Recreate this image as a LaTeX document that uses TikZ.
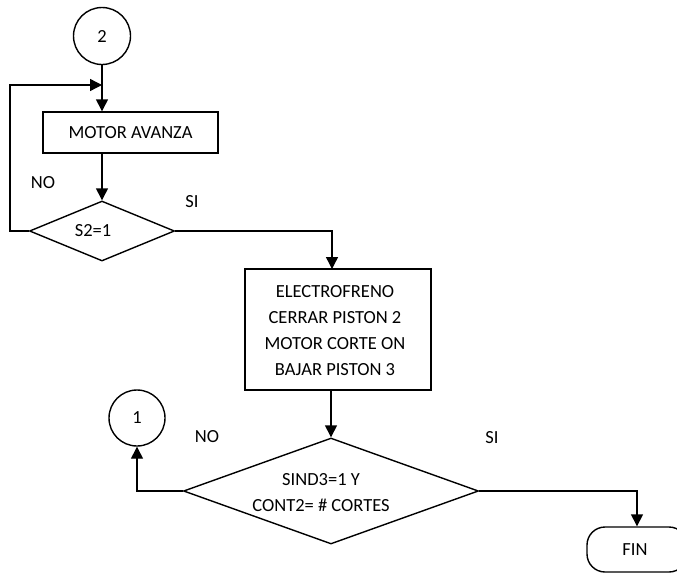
\documentclass[tikz,border=0pt]{standalone}
\usepackage{fontspec}
\setmainfont{Carlito}
\usetikzlibrary{arrows.meta,shapes.geometric}
\begin{document}
\begin{tikzpicture}[x=1pt,y=-1pt,
  line width=1.4pt,
  every node/.style={font=\fontsize{18.5}{26}\selectfont, inner sep=0pt},
  flow/.style={draw, line width=1.4pt},
  procbox/.style={flow, rectangle},
  connector/.style={flow, circle},
  decision/.style={flow, diamond},
  terminal/.style={flow, rectangle, rounded corners=18pt},
  arr/.style={-{Triangle[length=12pt,width=12pt]}},
  txt/.style={align=center}
]
\clip (0,0) rectangle (677,573);
\fill[white] (0,0) rectangle (677,573);

% shapes
\node[connector, minimum size=57pt] (c2) at (102,36) {2};
\node[procbox, minimum width=175pt, minimum height=41pt] (b1) at (130.5,132.5) {MOTOR AVANZA};
\node[decision, minimum width=145pt, minimum height=60pt] (d1) at (102,231) {};
\node[txt] (d1t) at (93,231) {S2=1};
\node[procbox, minimum width=186pt, minimum height=121pt] (b2) at (338,329.5) {};
\node[txt] (b2t) at (335,331) {ELECTROFRENO\\CERRAR PISTON 2\\MOTOR CORTE ON\\BAJAR PISTON 3};
\node[decision, minimum width=295pt, minimum height=106pt] (d2) at (331,491) {};
\node[txt] (d2t) at (321,493) {SIND3=1 Y\\CONT2= \# CORTES};
\node[connector, minimum size=56pt] (c1) at (137,418) {1};
\node[terminal, minimum width=100pt, minimum height=45pt] (fin) at (637,549.5) {};
\node (fint) at (635,550) {FIN};

% branch labels
\node (no1) at (43,183) {NO};
\node (si1) at (192,202) {SI};
\node (no2) at (207,437) {NO};
\node (si2) at (492,438) {SI};

% helper points
\coordinate (m) at (102,85);
\coordinate (lp) at (10,231);
\coordinate (t2) at (332,269);

% connectors
\draw[arr] (c2.south) -- (c2.south |- b1.north);
\draw[arr] (d1.north |- b1.south) -- (d1.north);
\draw[arr] (d1.west) -- (lp) |- (m);
\draw[arr] (d1.east) -| (t2);
\draw[arr] (d2.north |- b2.south) -- (d2.north);
\draw[arr] (d2.west) -| (c1.south);
\draw[arr] (d2.east) -| (fin.north);
\end{tikzpicture}
\end{document}
